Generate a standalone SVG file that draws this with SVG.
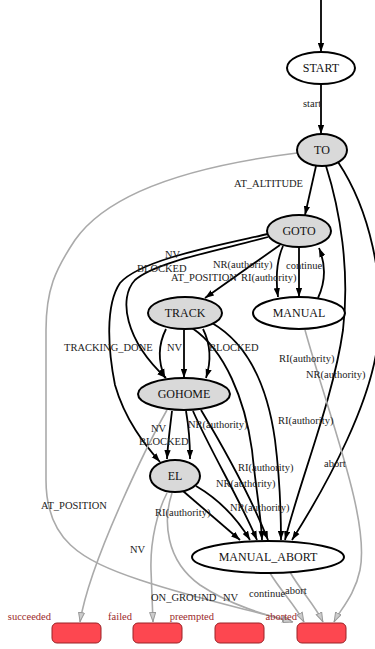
<svg xmlns="http://www.w3.org/2000/svg" width="375" height="649" viewBox="0 0 375 649">
<style>
.n ellipse{stroke:#000;stroke-width:2}
.g{fill:#d9d9d9}
.w{fill:#fff}
.nl{font-family:"Liberation Serif",serif;font-size:12px;text-anchor:middle;fill:#111}
.e path.b{fill:none;stroke:#000;stroke-width:1.8;marker-end:url(#ab)}
.e path.r{fill:none;stroke:#aaa;stroke-width:1.6;marker-end:url(#ag)}
.el{font-family:"Liberation Serif",serif;font-size:10.5px;fill:#222}
.o rect{fill:#fd4750;stroke:#9a2226;stroke-width:1}
.ol{font-family:"Liberation Serif",serif;font-size:10.5px;fill:#9b2a2a;text-anchor:end}
</style>
<defs>
<marker id="ab" viewBox="0 0 10 7" refX="10" refY="3.5" markerWidth="9" markerHeight="7" markerUnits="userSpaceOnUse" orient="auto"><path d="M0,0 L10,3.5 L0,7 z" fill="#000"/></marker>
<marker id="ag" viewBox="0 0 10 7" refX="10" refY="3.5" markerWidth="10" markerHeight="7.5" markerUnits="userSpaceOnUse" orient="auto"><path d="M0.5,0.5 L9.5,3.5 L0.5,6.5 z" fill="#ccc" stroke="#999" stroke-width="1"/></marker>
</defs>

<g id="edges" class="e">
<path class="b" d="M321,0 L321,52"/>
<path class="b" d="M321,84 L321,134"/>
<path class="b" d="M316,166 L305,215"/>
<path class="b" d="M283,246 C276,262 276,282 278,297"/>
<path class="b" d="M299,247 L299,297"/>
<path class="b" d="M318,298 C325,283 326,265 319,248"/>
<path class="b" d="M280,245 L205,298"/>
<path class="b" d="M268,237 C220,250 155,262 135,280 C118,298 125,340 166,378"/>
<path class="b" d="M268,234 C215,246 140,260 120,283 C105,305 108,350 115,385 C125,420 145,445 160,462"/>
<path class="b" d="M166,329 C158,345 158,362 165,378"/>
<path class="b" d="M184,330 L184,378"/>
<path class="b" d="M203,329 C211,345 211,362 206,378"/>
<path class="b" d="M192,328 C225,350 245,400 252,450 C256,490 261,515 262,540"/>
<path class="b" d="M212,323 C250,345 268,390 275,440 C280,480 281,510 281,540"/>
<path class="b" d="M326,166 C340,210 350,270 343,330 C333,400 300,480 285,540"/>
<path class="b" d="M338,162 C370,210 385,280 378,340 C372,400 330,480 292,540"/>
<path class="b" d="M172,411 C170,428 168,442 167,459"/>
<path class="b" d="M186,411 C189,428 190,442 190,459"/>
<path class="b" d="M193,411 C210,450 240,500 257,540"/>
<path class="b" d="M201,410 C225,450 252,500 268,540"/>
<path class="b" d="M183,491 L240,540"/>
<path class="b" d="M196,486 C220,500 238,520 250,540"/>
<path class="r" d="M297,153 C200,165 110,190 75,240 C55,270 46,290 46,330 L46,480 C46,540 80,560 140,580 C200,600 260,612 292,622"/>
<path class="r" d="M167,410 C150,440 90,560 80,622"/>
<path class="r" d="M167,493 C158,510 150,540 151,570 L153,622"/>
<path class="r" d="M172,493 C163,520 165,560 200,585 C230,605 265,615 293,622"/>
<path class="r" d="M305,330 C330,420 370,520 360,570 C355,595 340,610 334,622"/>
<path class="r" d="M270,573 C280,590 295,605 304,622"/>
<path class="r" d="M290,572 C300,590 315,605 323,622"/>
<text class="el" x="303" y="107">start</text>
<text class="el" x="234" y="187">AT_ALTITUDE</text>
<text class="el" x="165" y="258">NV</text>
<text class="el" x="137" y="272">BLOCKED</text>
<text class="el" x="213" y="268">NR(authority)</text>
<text class="el" x="286" y="269">continue</text>
<text class="el" x="171" y="281">AT_POSITION</text>
<text class="el" x="241" y="281">RI(authority)</text>
<text class="el" x="64" y="351">TRACKING_DONE</text>
<text class="el" x="167" y="351">NV</text>
<text class="el" x="209" y="351">BLOCKED</text>
<text class="el" x="279" y="362">RI(authority)</text>
<text class="el" x="306" y="378">NR(authority)</text>
<text class="el" x="278" y="424">RI(authority)</text>
<text class="el" x="188" y="428">NR(authority)</text>
<text class="el" x="151" y="432">NV</text>
<text class="el" x="139" y="445">BLOCKED</text>
<text class="el" x="238" y="471">RI(authority)</text>
<text class="el" x="324" y="467">abort</text>
<text class="el" x="216" y="487">NR(authority)</text>
<text class="el" x="41" y="509">AT_POSITION</text>
<text class="el" x="230" y="511">NR(authority)</text>
<text class="el" x="155" y="516">RI(authority)</text>
<text class="el" x="130" y="553">NV</text>
<text class="el" x="151" y="601">ON_GROUND</text>
<text class="el" x="223" y="601">NV</text>
<text class="el" x="249" y="597">continue</text>
<text class="el" x="285" y="594">abort</text>
</g>

<g id="START" class="n"><ellipse class="w" cx="321" cy="68" rx="34" ry="16"/><text class="nl" x="321" y="72">START</text></g>
<g id="TO" class="n"><ellipse class="g" cx="322" cy="150" rx="25" ry="16"/><text class="nl" x="322" y="154">TO</text></g>
<g id="GOTO" class="n"><ellipse class="g" cx="299" cy="231" rx="32" ry="16"/><text class="nl" x="299" y="235">GOTO</text></g>
<g id="MANUAL" class="n"><ellipse class="w" cx="299" cy="313" rx="46" ry="16"/><text class="nl" x="299" y="317">MANUAL</text></g>
<g id="TRACK" class="n"><ellipse class="g" cx="185" cy="313" rx="37" ry="16"/><text class="nl" x="185" y="317">TRACK</text></g>
<g id="GOHOME" class="n"><ellipse class="g" cx="184" cy="394" rx="46" ry="16"/><text class="nl" x="184" y="398">GOHOME</text></g>
<g id="EL" class="n"><ellipse class="g" cx="175" cy="476" rx="25" ry="16"/><text class="nl" x="175" y="480">EL</text></g>
<g id="MANUAL_ABORT" class="n"><ellipse class="w" cx="268" cy="557" rx="76" ry="16"/><text class="nl" x="268" y="561">MANUAL_ABORT</text></g>

<g id="succeeded" class="o"><rect x="52" y="623" width="49" height="20" rx="5"/><text class="ol" x="51" y="620">succeeded</text></g>
<g id="failed" class="o"><rect x="133" y="623" width="49" height="20" rx="5"/><text class="ol" x="132" y="620">failed</text></g>
<g id="preempted" class="o"><rect x="215" y="623" width="49" height="20" rx="5"/><text class="ol" x="214" y="620">preempted</text></g>
<g id="aborted" class="o"><rect x="297" y="623" width="49" height="20" rx="5"/><text class="ol" x="297" y="620">aborted</text></g>
</svg>
